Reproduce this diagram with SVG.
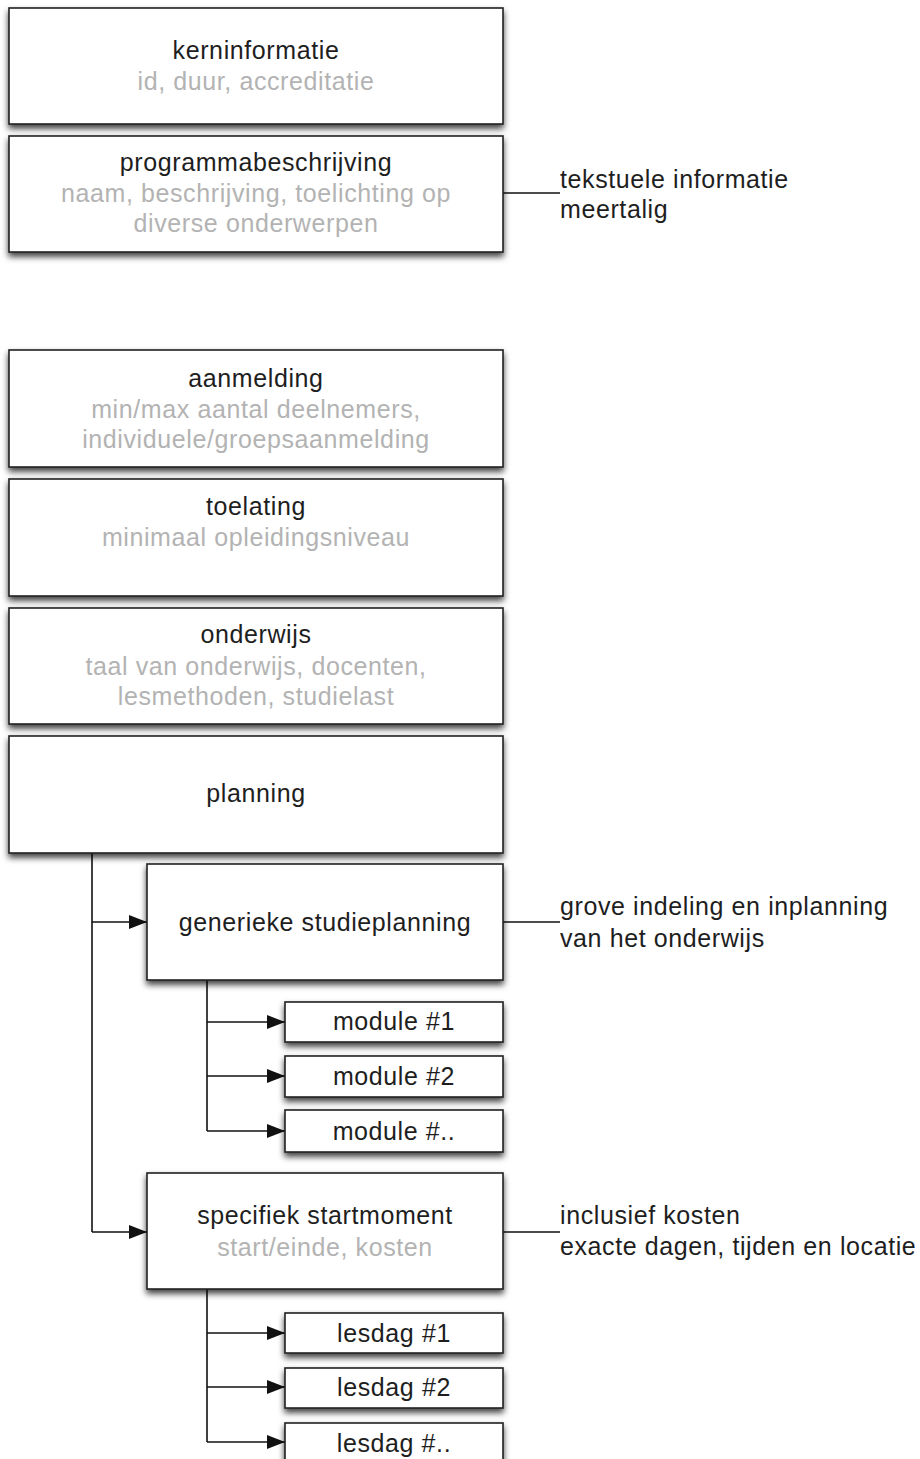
<svg xmlns="http://www.w3.org/2000/svg" width="920" height="1459" viewBox="0 0 920 1459">
<style>
.box{fill:#fff;stroke:#222;stroke-width:1.6;filter:url(#sh)}
.t{font-family:"Liberation Sans",Arial,sans-serif;font-size:25px;letter-spacing:0.6px;fill:#1e1e1e;text-anchor:middle}
.g{fill:#b3b3b3}
.side{text-anchor:start}
.c{fill:none;stroke:#111;stroke-width:1.6}
.a{marker-end:url(#ah)}
</style>
<defs>
<filter id="sh" x="-10%" y="-20%" width="120%" height="150%">
<feDropShadow dx="0" dy="4" stdDeviation="3" flood-color="#000" flood-opacity="0.75"/>
</filter>
<marker id="ah" viewBox="0 0 18 14" refX="18" refY="7" markerWidth="18" markerHeight="14" markerUnits="userSpaceOnUse" orient="auto">
<path d="M0,0 L18,7 L0,14 z" fill="#111"/>
</marker>
</defs>
<g id="connectors">
<path class="c" d="M503,193 H560"/>
<path class="c" d="M503,922 H560"/>
<path class="c" d="M503,1232 H560"/>
<path class="c" d="M92,853 V1232"/>
<path class="c a" d="M92,922 H147"/>
<path class="c a" d="M92,1232 H147"/>
<path class="c" d="M207,980 V1131"/>
<path class="c a" d="M207,1022 H285"/>
<path class="c a" d="M207,1076 H285"/>
<path class="c a" d="M207,1131 H285"/>
<path class="c" d="M207,1289 V1442"/>
<path class="c a" d="M207,1333 H285"/>
<path class="c a" d="M207,1387 H285"/>
<path class="c a" d="M207,1442 H285"/>
</g>
<g id="kerninformatie">
<rect class="box" x="9" y="8" width="494" height="116"/>
<text class="t" x="256" y="59">kerninformatie</text>
<text class="t g" x="256" y="90">id, duur, accreditatie</text>
</g>
<g id="programmabeschrijving">
<rect class="box" x="9" y="136" width="494" height="116"/>
<text class="t" x="256" y="171">programmabeschrijving</text>
<text class="t g" x="256" y="202">naam, beschrijving, toelichting op</text>
<text class="t g" x="256" y="232">diverse onderwerpen</text>
</g>
<g id="note-tekstuele">
<text class="t side" x="560" y="188">tekstuele informatie</text>
<text class="t side" x="560" y="218">meertalig</text>
</g>
<g id="aanmelding">
<rect class="box" x="9" y="350" width="494" height="117"/>
<text class="t" x="256" y="387">aanmelding</text>
<text class="t g" x="256" y="418">min/max aantal deelnemers,</text>
<text class="t g" x="256" y="448">individuele/groepsaanmelding</text>
</g>
<g id="toelating">
<rect class="box" x="9" y="479" width="494" height="117"/>
<text class="t" x="256" y="515">toelating</text>
<text class="t g" x="256" y="546">minimaal opleidingsniveau</text>
</g>
<g id="onderwijs">
<rect class="box" x="9" y="608" width="494" height="116"/>
<text class="t" x="256" y="643">onderwijs</text>
<text class="t g" x="256" y="675">taal van onderwijs, docenten,</text>
<text class="t g" x="256" y="705">lesmethoden, studielast</text>
</g>
<g id="planning">
<rect class="box" x="9" y="736" width="494" height="117"/>
<text class="t" x="256" y="802">planning</text>
</g>
<g id="generieke-studieplanning">
<rect class="box" x="147" y="864" width="356" height="116"/>
<text class="t" x="325" y="931">generieke studieplanning</text>
</g>
<g id="note-grove">
<text class="t side" x="560" y="915">grove indeling en inplanning</text>
<text class="t side" x="560" y="947">van het onderwijs</text>
</g>
<g id="module-1">
<rect class="box" x="285" y="1002" width="218" height="40"/>
<text class="t" x="394" y="1030">module #1</text>
</g>
<g id="module-2">
<rect class="box" x="285" y="1056" width="218" height="41"/>
<text class="t" x="394" y="1085">module #2</text>
</g>
<g id="module-3">
<rect class="box" x="285" y="1110" width="218" height="42"/>
<text class="t" x="394" y="1140">module #..</text>
</g>
<g id="specifiek-startmoment">
<rect class="box" x="147" y="1173" width="356" height="116"/>
<text class="t" x="325" y="1224">specifiek startmoment</text>
<text class="t g" x="325" y="1256">start/einde, kosten</text>
</g>
<g id="note-inclusief">
<text class="t side" x="560" y="1224">inclusief kosten</text>
<text class="t side" x="560" y="1255">exacte dagen, tijden en locatie</text>
</g>
<g id="lesdag-1">
<rect class="box" x="285" y="1313" width="218" height="40"/>
<text class="t" x="394" y="1342">lesdag #1</text>
</g>
<g id="lesdag-2">
<rect class="box" x="285" y="1368" width="218" height="40"/>
<text class="t" x="394" y="1396">lesdag #2</text>
</g>
<g id="lesdag-3">
<rect class="box" x="285" y="1423" width="218" height="42"/>
<text class="t" x="394" y="1452">lesdag #..</text>
</g>
</svg>
